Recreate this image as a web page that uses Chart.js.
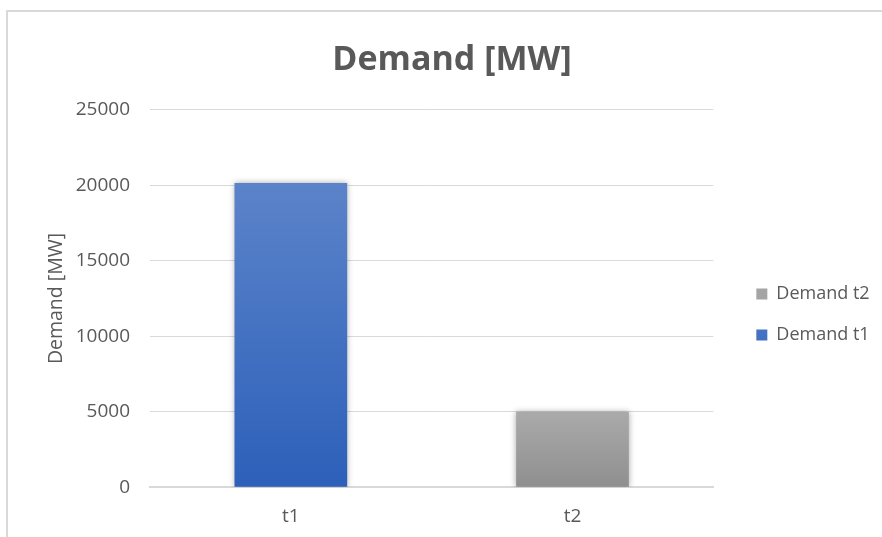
<!DOCTYPE html>
<html>
<head>
<meta charset="utf-8">
<title>Demand [MW]</title>
<script src="https://cdn.jsdelivr.net/npm/chart.js@4.4.1/dist/chart.umd.min.js"></script>
<style>
  html, body { margin: 0; padding: 0; background: #fff; overflow: hidden; }
  #frame { position: absolute; left: 6px; top: 10px; width: 1000px; height: 1000px; border: 2px solid #d9d9d9; }
  #wrap { position: absolute; left: 0; top: 0; width: 882px; height: 537px; }
</style>
</head>
<body>
<div id="frame"></div>
<div id="wrap"><canvas id="demandChart"></canvas></div>
<script>
// dati
const categories = ['t1', 't2'];
const demandT1 = [20150, null];
const demandT2 = [null, 5000];
const yTicks = [0, 5000, 10000, 15000, 20000, 25000];

const textColor = '#595959';
const gridColor = '#d9d9d9';
const fontFamily = '"Open Sans", "DejaVu Sans", sans-serif';

// gradiente verticale sulla singola barra
function barGradient(top, bottom, fallback) {
    return function (context) {
        if (context.type !== 'data' || context.parsed == null || context.parsed.y == null) return fallback;
        const chart = context.chart;
        const yScale = chart.scales.y;
        if (!yScale || !chart.chartArea) return fallback;
        const y0 = yScale.getPixelForValue(context.parsed.y);
        const y1 = yScale.getPixelForValue(0);
        if (!isFinite(y0) || !isFinite(y1) || y0 === y1) return fallback;
        const g = chart.ctx.createLinearGradient(0, y0, 0, y1);
        g.addColorStop(0, top);
        g.addColorStop(1, bottom);
        return g;
    };
}

// ombra leggera attorno alle barre (stile Excel)
const barShadow = {
    id: 'barShadow',
    beforeDatasetsDraw(chart) {
        const ctx = chart.ctx;
        ctx.save();
        ctx.shadowColor = 'rgba(0,0,0,0.35)';
        ctx.shadowBlur = 6;
        ctx.shadowOffsetX = 0;
        ctx.shadowOffsetY = 0;
    },
    afterDatasetsDraw(chart) {
        chart.ctx.restore();
    }
};

const ctx = document.getElementById('demandChart').getContext('2d');
const myChart = new Chart(ctx, {
    type: 'bar',
    data: {
        labels: categories,
        datasets: [
            {
                label: 'Demand t1',
                data: demandT1,
                backgroundColor: barGradient('#5b83c9', '#2d60ba', '#4472c4')
            },
            {
                label: 'Demand t2',
                data: demandT2,
                backgroundColor: barGradient('#aaaaaa', '#8f8f8f', '#a5a5a5')
            }
        ]
    },
    options: {
        responsive: true,
        maintainAspectRatio: false,
        animation: false,
        barPercentage: 0.4,
        categoryPercentage: 1,
        layout: { padding: { left: 30, right: 8, top: 20, bottom: -9 } },
        plugins: {
            title: {
                display: true,
                text: 'Demand [MW]',
                color: textColor,
                font: { family: fontFamily, size: 34, weight: 'bold' },
                padding: { top: 20, bottom: 29 }
            },
            legend: {
                position: 'right',
                reverse: true,
                title: {
                    display: true,
                    text: ' ',
                    font: { family: fontFamily, size: 1 },
                    padding: { top: 62, bottom: 0 }
                },
                labels: {
                    color: textColor,
                    font: { family: fontFamily, size: 18 },
                    boxWidth: 11,
                    boxHeight: 11,
                    padding: 23
                }
            },
            tooltip: { enabled: false }
        },
        scales: {
            x: {
                stacked: true,
                grid: { display: false, drawTicks: false },
                border: { display: true, color: gridColor, width: 2 },
                ticks: { color: textColor, font: { family: fontFamily, size: 19 }, padding: 18 }
            },
            y: {
                stacked: true,
                min: 0,
                max: 25000,
                afterBuildTicks: (scale) => { scale.ticks = yTicks.map(v => ({ value: v })); },
                afterFit: (scale) => { scale.width = 120; },
                grid: { color: gridColor, lineWidth: 1, drawTicks: false },
                border: { display: false },
                ticks: {
                    color: textColor,
                    font: { family: fontFamily, size: 19 },
                    padding: 20,
                    callback: (v) => String(v)
                },
                title: {
                    display: true,
                    text: 'Demand [MW]',
                    color: textColor,
                    font: { family: fontFamily, size: 19.5 },
                    padding: { top: 15, bottom: 0 }
                }
            },
            gap: {
                position: 'right',
                display: true,
                grid: { display: false, drawTicks: false },
                border: { display: false },
                ticks: { display: false },
                afterFit: (scale) => { scale.width = 20; }
            }
        }
    },
    plugins: [barShadow]
});
</script>
</body>
</html>
